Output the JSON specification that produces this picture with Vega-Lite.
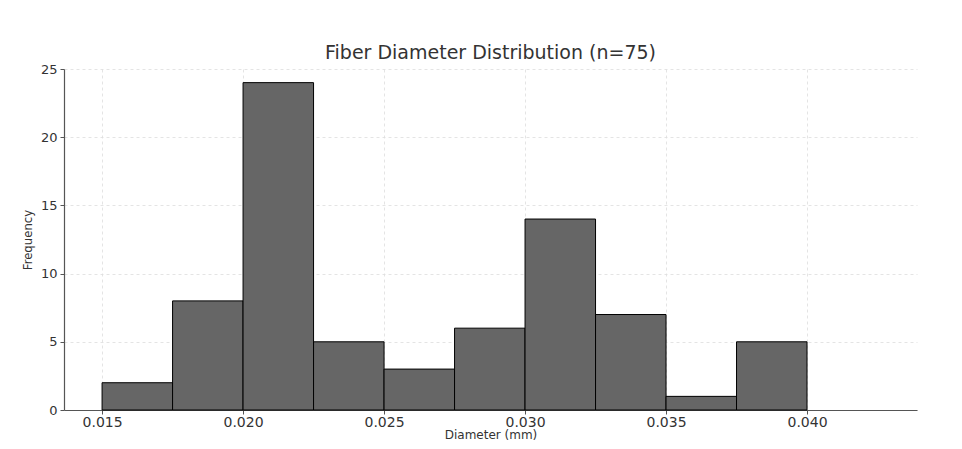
{
  "$schema": "https://vega.github.io/schema/vega-lite/v6.json",
  "width": 853,
  "height": 341,
  "autosize": {"type": "none"},
  "padding": {"left": 64, "top": 69, "right": 45, "bottom": 39},
  "background": "white",
  "title": {
    "text": "Fiber Diameter Distribution (n=75)",
    "font": "DejaVu Sans",
    "fontSize": 19,
    "fontWeight": "normal",
    "color": "#333333",
    "anchor": "middle",
    "offset": 0
  },
  "data": {
    "values": [
      {"bin_start": 0.015, "bin_end": 0.0175, "count": 2},
      {"bin_start": 0.0175, "bin_end": 0.02, "count": 8},
      {"bin_start": 0.02, "bin_end": 0.0225, "count": 24},
      {"bin_start": 0.0225, "bin_end": 0.025, "count": 5},
      {"bin_start": 0.025, "bin_end": 0.0275, "count": 3},
      {"bin_start": 0.0275, "bin_end": 0.03, "count": 6},
      {"bin_start": 0.03, "bin_end": 0.0325, "count": 14},
      {"bin_start": 0.0325, "bin_end": 0.035, "count": 7},
      {"bin_start": 0.035, "bin_end": 0.0375, "count": 1},
      {"bin_start": 0.0375, "bin_end": 0.04, "count": 5}
    ]
  },
  "mark": {"type": "rect", "fill": "#666666", "stroke": "#000000", "strokeWidth": 1},
  "encoding": {
    "x": {
      "field": "bin_start",
      "type": "quantitative",
      "scale": {"domain": [0.01365, 0.0439], "nice": false, "zero": false},
      "axis": {
        "title": "Diameter (mm)",
        "values": [0.015, 0.02, 0.025, 0.03, 0.035, 0.04],
        "format": ".3f",
        "titleFontSize": 12,
        "titleFont": "DejaVu Sans",
        "titleFontWeight": "normal",
        "titleColor": "#333333",
        "titlePadding": 0,
        "labelFont": "DejaVu Sans",
        "labelFontSize": 14,
        "labelColor": "#333333",
        "labelPadding": 1,
        "domainColor": "#555555",
        "domainWidth": 1.2,
        "tickColor": "#555555",
        "tickSize": 4,
        "grid": true,
        "gridColor": "#dddddd",
        "gridDash": [3, 3],
        "gridWidth": 0.8
      }
    },
    "x2": {"field": "bin_end"},
    "y": {
      "field": "count",
      "type": "quantitative",
      "scale": {"domain": [0, 25], "nice": false},
      "axis": {
        "title": "Frequency",
        "values": [0, 5, 10, 15, 20, 25],
        "titleFontSize": 13,
        "titleFont": "DejaVu Sans Condensed",
        "titleFontWeight": "normal",
        "titleColor": "#333333",
        "titlePadding": 6,
        "labelFont": "DejaVu Sans",
        "labelFontSize": 13,
        "labelColor": "#333333",
        "labelPadding": 3,
        "domainColor": "#555555",
        "domainWidth": 1.2,
        "tickColor": "#555555",
        "tickSize": 4,
        "grid": true,
        "gridColor": "#dddddd",
        "gridDash": [3, 3],
        "gridWidth": 0.8
      }
    },
    "y2": {"datum": 0}
  },
  "config": {"view": {"stroke": null}}
}
